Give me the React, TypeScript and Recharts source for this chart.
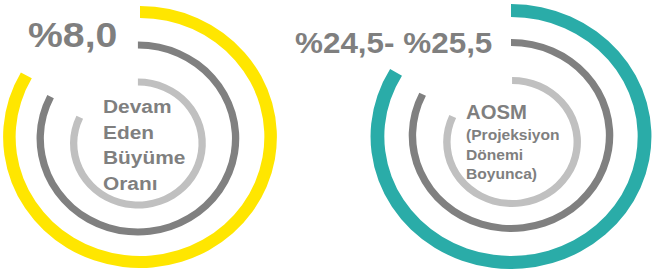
import React from "react";
import { PieChart, Pie, Cell } from "recharts";

const headlines = ["%8,0", "%24,5- %25,5"];
const leftLabelLines = ["Devam", "Eden", "Büyüme", "Oranı"];
const rightLabelLines = ["AOSM", "(Projeksiyon", "Dönemi", "Boyunca)"];
const ringNames = ["dis", "orta", "ic"];
// share of the full circle that each ring covers (%)
const leftShares = [83.2, 82.4, 82.0];
const rightShares = [83.5, 82.3, 81.8];

const W = 653;
const H = 274;
const TEXT = "#7F7F7F";
const FONT = "'Liberation Sans', Arial, sans-serif";

type Ring = { cx: number; cy: number; inner: number; outer: number; color: string };

const LEFT_RINGS: Ring[] = [
  { cx: 140, cy: 137, inner: 119, outer: 131, color: "#FFE600" },
  { cx: 138, cy: 138.5, inner: 90, outer: 97, color: "#808080" },
  { cx: 138, cy: 143.5, inner: 58, outer: 65, color: "#C0C0C0" },
];

const RIGHT_RINGS: Ring[] = [
  { cx: 511, cy: 136.5, inner: 119.5, outer: 132.5, color: "#2AACA8" },
  { cx: 511, cy: 135.5, inner: 89.5, outer: 96.5, color: "#808080" },
  { cx: 512, cy: 142, inner: 58, outer: 65, color: "#C0C0C0" },
];

function RingGroup({ shares, rings, originX, scale }: { shares: number[]; rings: Ring[]; originX: number; scale: number }) {
  return (
    <div
      style={{
        position: "absolute",
        left: 0,
        top: 0,
        width: W,
        height: H,
        transform: `scaleX(${scale})`,
        transformOrigin: `${originX}px 0px`,
      }}
    >
      <PieChart width={W} height={H} margin={{ top: 0, right: 0, bottom: 0, left: 0 }}>
        {rings.map((r, i) => (
          <Pie
            key={ringNames[i]}
            data={[
              { name: ringNames[i], value: shares[i] },
              { name: "bos", value: 100 - shares[i] },
            ]}
            dataKey="value"
            cx={r.cx}
            cy={r.cy}
            innerRadius={r.inner}
            outerRadius={r.outer}
            startAngle={90}
            endAngle={-270}
            stroke="none"
            isAnimationActive={false}
          >
            <Cell fill={r.color} />
            <Cell fill="transparent" />
          </Pie>
        ))}
      </PieChart>
    </div>
  );
}

function Lines({ lines, x, ys, sizes, sx }: { lines: string[]; x: number; ys: number[]; sizes: number[]; sx: number }) {
  return (
    <>
      {lines.map((t, i) => (
        <text
          key={t}
          transform={`translate(${x},${ys[i]}) scale(${sx},1)`}
          fontSize={sizes[i]}
          fontWeight="bold"
          fill={TEXT}
          fontFamily={FONT}
        >
          {t}
        </text>
      ))}
    </>
  );
}

export default function App() {
  return (
    <div style={{ position: "absolute", left: 0, top: 0, width: W, height: H, background: "#fff" }}>
      <RingGroup shares={leftShares} rings={LEFT_RINGS} originX={140} scale={1.045} />
      <RingGroup shares={rightShares} rings={RIGHT_RINGS} originX={511} scale={1.06} />
      <svg width={W} height={H} style={{ position: "absolute", left: 0, top: 0 }}>
        <Lines lines={[headlines[0]]} x={28} ys={[47]} sizes={[35]} sx={1.12} />
        <Lines lines={[headlines[1]]} x={295} ys={[53]} sizes={[29.5]} sx={1.065} />
        <Lines lines={leftLabelLines} x={103} ys={[113, 138.5, 164, 189.5]} sizes={[18.5, 18.5, 18.5, 18.5]} sx={1.13} />
        <Lines lines={rightLabelLines} x={466} ys={[119, 140, 159.5, 179]} sizes={[19.5, 15, 15, 15]} sx={1.04} />
      </svg>
    </div>
  );
}
